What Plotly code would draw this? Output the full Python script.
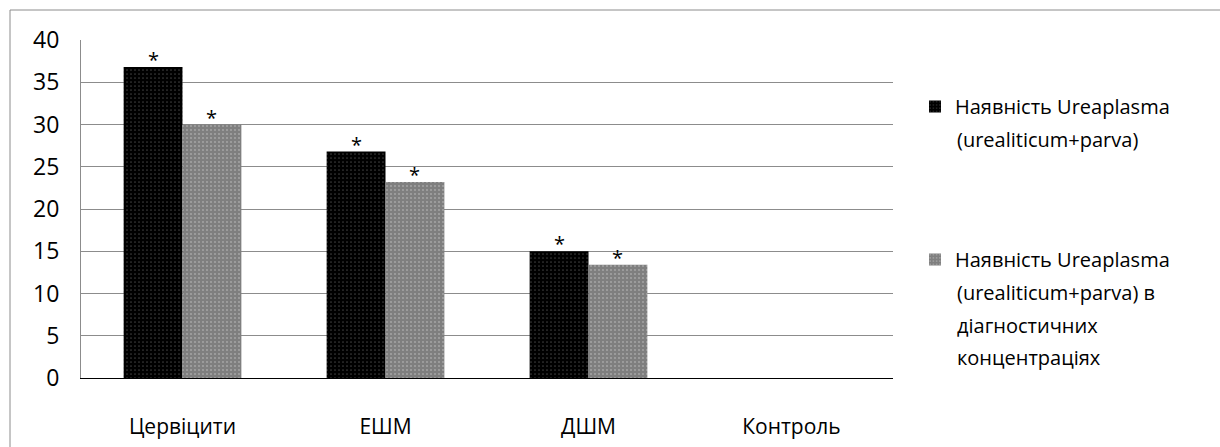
import plotly.graph_objects as go

# Categories and series values (%)
categories = ["Цервіцити", "ЕШМ", "ДШМ", "Контроль"]
ureaplasma_any = [36.8, 26.8, 15.0, 0]
ureaplasma_diag = [30.0, 23.2, 13.4, 0]
marks_any = ["*", "*", "*", ""]
marks_diag = ["*", "*", "*", ""]

name_any = ["Наявність Ureaplasma", "(urealiticum+parva)"]
name_diag = ["Наявність Ureaplasma", "(urealiticum+parva) в", "діагностичних", "концентраціях"]

y_ticks = [0, 5, 10, 15, 20, 25, 30, 35, 40]

FONT = "Open Sans"
GAP = 0.42

# page / plot-area geometry (px)
L, T, B, W, H = 81, 40, 69, 1220, 447
R = 327
plot_w = W - L - R
plot_h = H - T - B

fig = go.Figure()
fig.add_trace(go.Bar(
    x=categories, y=ureaplasma_any, name=name_any[0],
    marker=dict(color="#000000", line=dict(width=0),
                pattern=dict(shape=".", fgcolor="#777777", bgcolor="#000000",
                             size=4, solidity=0.15, fillmode="overlay")),
    legend="legend", hoverinfo="x+y",
))
fig.add_trace(go.Bar(
    x=categories, y=ureaplasma_diag, name=name_diag[0],
    marker=dict(color="#7f7f7f", line=dict(width=0),
                pattern=dict(shape=".", fgcolor="#d2d2d2", bgcolor="#7f7f7f",
                             size=4, solidity=0.16, fillmode="overlay")),
    legend="legend2", hoverinfo="x+y",
))

# significance asterisks centred over each bar of the group
bar_px = plot_w / len(categories) * (1 - GAP) / 2
annotations = []
for vals, marks, side in [(ureaplasma_any, marks_any, -1), (ureaplasma_diag, marks_diag, 1)]:
    for cat, v, m in zip(categories, vals, marks):
        if not m:
            continue
        annotations.append(dict(text=m, x=cat, y=v, xref="x", yref="y",
                                xanchor="center", yanchor="bottom",
                                xshift=side * bar_px / 2, yshift=-8,
                                showarrow=False,
                                font=dict(family=FONT, size=20, color="black")))


def px_to_paper(px, py):
    return (px - L) / plot_w, (H - B - py) / plot_h


# continuation lines of the legend labels
LEG_FONT = dict(family=FONT, size=20, color="black")
for text, py in [(name_any[1], 139)] + list(zip(name_diag[1:], [292, 325, 357])):
    ax, ay = px_to_paper(955, py)
    annotations.append(dict(text=text, x=ax, y=ay, xref="paper", yref="paper",
                            xanchor="left", yanchor="middle", showarrow=False,
                            font=LEG_FONT))

bx0, by0 = px_to_paper(10, 10)

fig.update_layout(
    width=W, height=H,
    margin=dict(l=L, r=R, t=T, b=B, autoexpand=False),
    paper_bgcolor="white", plot_bgcolor="white",
    barmode="group", bargap=GAP, bargroupgap=0,
    font=dict(family=FONT, color="black"),
    xaxis=dict(showgrid=False, showline=True, linecolor="black", linewidth=1,
               ticks="", tickfont=dict(size=21), ticklabelstandoff=30,
               automargin=False),
    yaxis=dict(range=[0, 40], tickvals=y_ticks, showgrid=True,
               gridcolor="#8c8c8c", gridwidth=1, showline=True,
               linecolor="#8c8c8c", linewidth=1, zeroline=False,
               ticks="", tickfont=dict(size=23), ticklabelstandoff=16,
               automargin=False),
    legend=dict(xref="container", yref="container", x=915 / W, y=1 - 87 / H,
                xanchor="left", yanchor="top", bgcolor="rgba(0,0,0,0)",
                font=LEG_FONT),
    legend2=dict(xref="container", yref="container", x=915 / W, y=1 - 240 / H,
                 xanchor="left", yanchor="top", bgcolor="rgba(0,0,0,0)",
                 font=LEG_FONT),
    annotations=annotations,
    shapes=[dict(type="rect", xref="paper", yref="paper",
                 x0=bx0, y0=-1, x1=2, y1=by0,
                 line=dict(color="#8c8c8c", width=1), layer="below")],
    showlegend=True,
)

fig.write_html("out.html")
